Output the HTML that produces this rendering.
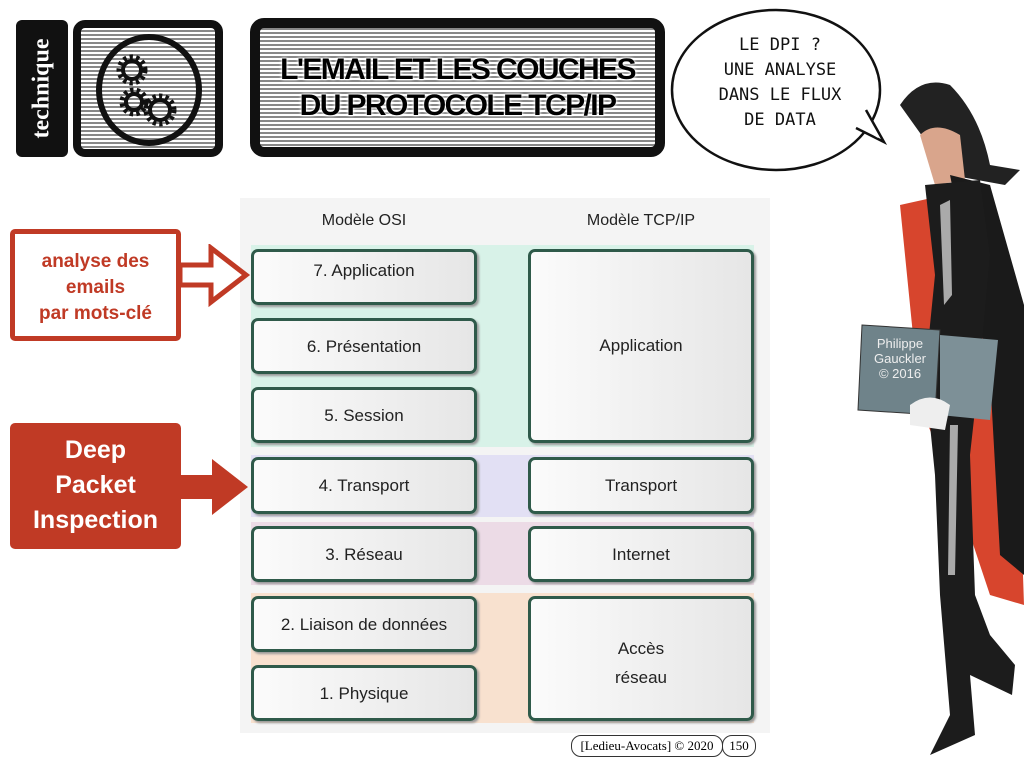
<!DOCTYPE html>
<html><head><meta charset="utf-8"><style>
body{margin:0;width:1024px;height:768px;background:#fff;position:relative;overflow:hidden;font-family:"Liberation Sans",sans-serif}
.a{position:absolute}
.bx{position:absolute;box-sizing:border-box;border:3px solid #2f5a4a;border-radius:7px;background:linear-gradient(90deg,#fbfbfb,#e6e6e6);box-shadow:2px 2px 2px #999;font-size:17px;color:#222;text-align:center}
.bin{background:repeating-linear-gradient(0deg,#fff 0 1px,#888 1px 3px,#fff 3px 4px);}
</style></head><body>
<!-- header -->
<div class="a" style="left:16px;top:20px;width:52px;height:137px;background:#111;border-radius:6px"></div>
<div class="a" style="left:16px;top:20px;width:52px;height:137px;display:flex;align-items:center;justify-content:center"><div style="transform:rotate(-90deg);color:#fff;font-family:'Liberation Serif',serif;font-weight:bold;font-size:24px;white-space:nowrap">technique</div></div>
<div class="a bin" style="left:73px;top:20px;width:150px;height:137px;box-sizing:border-box;border:8px solid #111;border-radius:12px"></div>
<svg class="a" style="left:90px;top:30px" width="120" height="118"><ellipse cx="59" cy="60" rx="50" ry="53" fill="none" stroke="#111" stroke-width="6"/>
<g fill="none" stroke="#111" stroke-width="7" stroke-dasharray="3 3"><circle cx="42" cy="40" r="12"/><circle cx="44" cy="72" r="11"/><circle cx="70" cy="80" r="13"/></g>
<g fill="none" stroke="#111" stroke-width="4"><circle cx="42" cy="40" r="9"/><circle cx="44" cy="72" r="8"/><circle cx="70" cy="80" r="10"/></g></svg>
<div class="a bin" style="left:250px;top:18px;width:415px;height:139px;box-sizing:border-box;border:10px solid #111;border-radius:14px"></div>
<div class="a" style="left:250px;top:52px;width:415px;text-align:center;font-weight:bold;font-size:30px;line-height:36px;color:#000;letter-spacing:-1.6px;text-shadow:0 0 3px #fff,0 0 3px #fff">L'EMAIL ET LES COUCHES<br>DU PROTOCOLE TCP/IP</div>
<!-- bubble -->
<svg class="a" style="left:668px;top:4px" width="230" height="180"><ellipse cx="108" cy="86" rx="104" ry="80" fill="#fff" stroke="#111" stroke-width="2.5"/><path d="M188 124 L216 138 L198 106" fill="#fff" stroke="#111" stroke-width="2.5"/><path d="M184 118 L210 134 L194 104 Z" fill="#fff"/></svg>
<div class="a" style="left:680px;top:33px;width:200px;text-align:center;font-family:'DejaVu Sans Mono',monospace;font-size:17px;line-height:25px;color:#111">LE DPI ?<br>UNE ANALYSE<br>DANS LE FLUX<br>DE DATA</div>
<!-- figure -->
<svg class="a" style="left:840px;top:75px" width="184" height="693">
<path d="M60 30 Q80 0 110 10 Q140 40 150 90 L180 95 L165 110 L110 100 Z" fill="#222"/>
<path d="M80 60 Q95 45 120 60 L125 105 L95 110 Z" fill="#d9a58c"/>
<path d="M60 130 L150 110 L175 260 L184 530 L150 520 L120 430 L80 330 Z" fill="#d7452d"/>
<path d="M110 100 L150 110 L184 230 L184 500 L160 480 L150 300 Z" fill="#1a1a1a"/>
<path d="M85 110 L140 105 L150 180 L140 290 L130 380 L135 520 L150 560 L175 590 L172 620 L130 600 L135 660 L90 680 L110 640 L100 520 L95 400 L85 300 L95 200 Z" fill="#1c1c1c"/>
<path d="M100 130 L110 125 L112 220 L104 230 Z M110 350 L118 350 L115 500 L108 500 Z" fill="#aaa"/>
<path d="M22 250 L100 255 L95 340 L18 335 Z" fill="#6f838a" stroke="#333"/>
<path d="M100 260 L158 265 L150 345 L100 340 Z" fill="#7d9097"/>
<path d="M70 330 Q90 315 110 330 L105 355 L70 350 Z" fill="#eee"/>
</svg>
<div class="a" style="left:864px;top:336px;width:72px;text-align:center;color:#eee;font-size:13px;line-height:15px">Philippe<br>Gauckler<br>© 2016</div>
<!-- diagram background -->
<div class="a" style="left:240px;top:198px;width:530px;height:535px;background:#f4f4f4"></div>
<div class="a" style="left:251px;top:245px;width:503px;height:202px;background:#d8f2e8"></div>
<div class="a" style="left:251px;top:455px;width:503px;height:62px;background:#e2e0f4"></div>
<div class="a" style="left:251px;top:522px;width:503px;height:63px;background:#ecdbe6"></div>
<div class="a" style="left:251px;top:593px;width:503px;height:130px;background:#f8e1cf"></div>
<div class="a" style="left:251px;top:212px;width:226px;text-align:center;font-size:16px;color:#222">Modèle OSI</div>
<div class="a" style="left:528px;top:212px;width:226px;text-align:center;font-size:16px;color:#222">Modèle TCP/IP</div>
<div class="bx" style="left:251px;top:249px;width:226px;height:56px;padding-top:9px">7. Application</div>
<div class="bx" style="left:251px;top:318px;width:226px;height:56px;line-height:52px">6. Présentation</div>
<div class="bx" style="left:251px;top:387px;width:226px;height:56px;line-height:52px">5. Session</div>
<div class="bx" style="left:251px;top:457px;width:226px;height:57px;line-height:52px">4. Transport</div>
<div class="bx" style="left:251px;top:526px;width:226px;height:56px;line-height:52px">3. Réseau</div>
<div class="bx" style="left:251px;top:596px;width:226px;height:56px;line-height:52px">2. Liaison de données</div>
<div class="bx" style="left:251px;top:665px;width:226px;height:56px;line-height:52px">1. Physique</div>
<div class="bx" style="left:528px;top:249px;width:226px;height:194px;line-height:188px">Application</div>
<div class="bx" style="left:528px;top:457px;width:226px;height:57px;line-height:52px">Transport</div>
<div class="bx" style="left:528px;top:526px;width:226px;height:56px;line-height:52px">Internet</div>
<div class="bx" style="left:528px;top:596px;width:226px;height:125px;padding-top:35px;line-height:29px">Accès<br>réseau</div>
<!-- callouts -->
<div class="a" style="left:10px;top:229px;width:171px;height:112px;box-sizing:border-box;border:5px solid #c03a25;border-radius:5px;background:#fff;color:#c03a25;font-weight:bold;font-size:19px;line-height:26px;text-align:center;padding-top:15px">analyse des<br>emails<br>par mots-clé</div>
<svg class="a" style="left:178px;top:244px" width="75" height="64"><path d="M2 21 L33 21 L33 4 L68 31 L33 58 L33 41 L2 41 Z" fill="#fff" stroke="#c03a25" stroke-width="5"/></svg>
<div class="a" style="left:10px;top:423px;width:171px;height:126px;background:#c03a25;border-radius:5px;color:#fff;font-weight:bold;font-size:25px;line-height:35px;text-align:center;padding-top:10px;box-sizing:border-box">Deep<br>Packet<br>Inspection</div>
<svg class="a" style="left:178px;top:457px" width="75" height="62"><path d="M0 18 L34 18 L34 2 L70 30 L34 58 L34 42 L0 42 Z" fill="#c03a25"/></svg>
<!-- footer -->
<div class="a" style="left:571px;top:735px;width:150px;height:20px;border:1px solid #333;border-radius:10px;font-family:'Liberation Serif',serif;font-size:13px;line-height:20px;text-align:center">[Ledieu-Avocats] © 2020</div>
<div class="a" style="left:722px;top:735px;width:32px;height:20px;border:1px solid #333;border-radius:10px;font-family:'Liberation Serif',serif;font-size:13px;line-height:20px;text-align:center">150</div>
</body></html>
